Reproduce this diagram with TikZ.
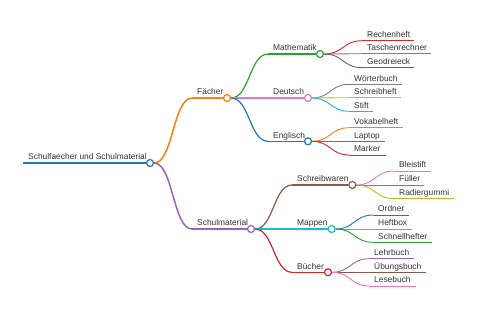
\documentclass[tikz,border=0pt]{standalone}
\usepackage{fontspec}
\setmainfont{Liberation Sans}
\usetikzlibrary{calc}
\definecolor{mmblue}{HTML}{1F77B4}
\definecolor{mmorange}{HTML}{FF7F0E}
\definecolor{mmgreen}{HTML}{2CA02C}
\definecolor{mmred}{HTML}{D62728}
\definecolor{mmpurple}{HTML}{9467BD}
\definecolor{mmbrown}{HTML}{8C564B}
\definecolor{mmpink}{HTML}{E377C2}
\definecolor{mmgray}{HTML}{7F7F7F}
\definecolor{mmolive}{HTML}{BCBD22}
\definecolor{mmcyan}{HTML}{17BECF}
\definecolor{mmtext}{HTML}{333333}
\pgfdeclarelayer{bg}
\pgfsetlayers{bg,main}
\tikzset{
  circ/.style={circle, minimum size=7pt, inner sep=0pt, fill=white, line width=1.2pt},
  lbl/.style={anchor=base west, inner sep=0pt, text=mmtext, font=\fontsize{8.4}{10}\selectfont},
  rootline/.style={line width=2pt},
  subline/.style={line width=1.5pt},
  midline/.style={line width=1.2pt},
  leafline/.style={line width=0.9pt}
}
% curved link like a horizontal d3 link
\newcommand\mmlink[3]{%
  \draw[#3] let \p1=(#1), \p2=(#2) in
    (\p1) .. controls ({(\x1+\x2)/2},\y1) and ({(\x1+\x2)/2},\y2) .. (\p2);}

\begin{document}
\begin{tikzpicture}[x=1pt, y=-1pt]
  \useasboundingbox (0,0) rectangle (480,320);

  % root
  \coordinate (root-s) at (23,163);
  \node[circ, draw=mmblue] (root) at (150,163) {};
  \node[lbl] (root-t) at (28,160) {Schulfaecher und Schulmaterial};
  \begin{pgfonlayer}{bg}
    \draw[rootline, mmblue] (root-s) -- (root);
  \end{pgfonlayer}

  % level 1
  \foreach \nm/\t/\y/\cx/\c in {faecher/Fächer/98/227/mmorange,
                               material/Schulmaterial/229/251/mmpurple} {
    \coordinate (\nm-s) at (192,\y);
    \node[circ, draw=\c] (\nm) at (\cx,\y) {};
    \node[lbl] (\nm-t) at (197,\y-3) {\t};
    \begin{pgfonlayer}{bg}
      \draw[subline, \c] (\nm-s) -- (\nm);
      \mmlink{root.east}{\nm-s}{subline,\c}
    \end{pgfonlayer}
  }

  % level 2: Faecher
  \foreach \nm/\t/\y/\cx/\c in {mathe/Mathematik/54/320/mmgreen,
                               deutsch/Deutsch/98/308/mmpink,
                               englisch/Englisch/141.3/308/mmblue} {
    \coordinate (\nm-s) at (268,\y);
    \node[circ, draw=\c] (\nm) at (\cx,\y) {};
    \node[lbl] (\nm-t) at (273,\y-3) {\t};
    \begin{pgfonlayer}{bg}
      \draw[midline, \c] (\nm-s) -- (\nm);
      \mmlink{faecher.east}{\nm-s}{midline,\c}
    \end{pgfonlayer}
  }

  % level 2: Schulmaterial
  \foreach \nm/\t/\y/\cx/\c in {schreib/Schreibwaren/185/352.3/mmbrown,
                               mappen/Mappen/229/331.7/mmcyan,
                               buecher/Bücher/272.3/328/mmred} {
    \coordinate (\nm-s) at (292,\y);
    \node[circ, draw=\c] (\nm) at (\cx,\y) {};
    \node[lbl] (\nm-t) at (297,\y-3) {\t};
    \begin{pgfonlayer}{bg}
      \draw[midline, \c] (\nm-s) -- (\nm);
      \mmlink{material.east}{\nm-s}{midline,\c}
    \end{pgfonlayer}
  }

  % leaves
  \foreach \pa/\xs/\nm/\t/\y/\e/\c in {
      mathe/362/rechenheft/Rechenheft/40.7/414/mmred,
      mathe/362/taschen/Taschenrechner/53.7/430.7/mmpurple,
      mathe/362/geodreieck/Geodreieck/67.7/414/mmbrown,
      deutsch/349/woerterbuch/Wörterbuch/84.3/401.7/mmgray,
      deutsch/349/schreibheft/Schreibheft/97.7/401/mmolive,
      deutsch/349/stift/Stift/111.3/373/mmcyan,
      englisch/349/vokabelheft/Vokabelheft/127.7/403/mmorange,
      englisch/349/laptop/Laptop/141.3/385/mmgreen,
      englisch/349/marker/Marker/155/385.7/mmred,
      schreib/394/bleistift/Bleistift/171/430.7/mmpink,
      schreib/394/fueller/Füller/185/424.3/mmgray,
      schreib/394/radiergummi/Radiergummi/198.7/454/mmolive,
      mappen/373/ordner/Ordner/215/409/mmblue,
      mappen/373/heftbox/Heftbox/229/411.7/mmorange,
      mappen/373/schnellhefter/Schnellhefter/242.3/431.7/mmgreen,
      buecher/369/lehrbuch/Lehrbuch/258.7/414.3/mmpurple,
      buecher/369/uebungsbuch/Übungsbuch/272.3/426/mmbrown,
      buecher/369/lesebuch/Lesebuch/286/415.7/mmpink} {
    \coordinate (\nm-s) at (\xs,\y);
    \coordinate (\nm-e) at (\e,\y);
    \node[lbl] (\nm) at (\xs+5,\y-3) {\t};
    \begin{pgfonlayer}{bg}
      \draw[leafline, \c] (\nm-s) -- (\nm-e);
      \mmlink{\pa.east}{\nm-s}{leafline,\c}
    \end{pgfonlayer}
  }
\end{tikzpicture}
\end{document}
